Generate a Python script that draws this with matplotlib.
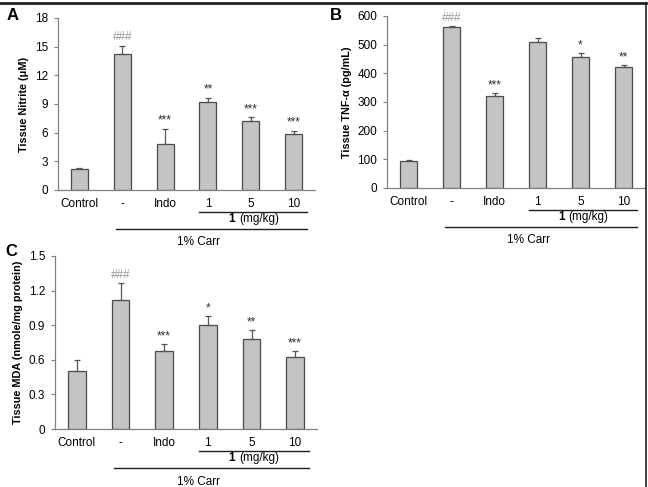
import matplotlib
matplotlib.use("Agg")
import matplotlib.pyplot as plt
from matplotlib.lines import Line2D

categories = ["Control", "-", "Indo", "1", "5", "10"]

nitrite = [2.2, 14.2, 4.8, 9.2, 7.2, 5.9]
nitrite_err = [0.1, 0.9, 1.6, 0.4, 0.4, 0.3]
nitrite_sig = ["", "###", "***", "**", "***", "***"]

tnf = [95, 560, 320, 508, 458, 423]
tnf_err = [3, 6, 12, 15, 12, 6]
tnf_sig = ["", "###", "***", "", "*", "**"]

mda = [0.50, 1.12, 0.68, 0.90, 0.78, 0.62]
mda_err = [0.10, 0.15, 0.06, 0.08, 0.08, 0.06]
mda_sig = ["", "###", "***", "*", "**", "***"]

W, H = 648, 487
fig = plt.figure(figsize=(W / 100, H / 100), dpi=100)
plt.rcParams['font.family'] = ['Liberation Sans', 'DejaVu Sans']

def rect(l, r, top, bot):
    return [l / W, (H - bot) / H, (r - l) / W, (bot - top) / H]

AXC = "#808080"

def panel(pos, vals, errs, sigs, ymax, ystep, ylabel, yfmt, sigpad):
    ax = fig.add_axes(pos)
    x = list(range(len(categories)))
    ax.bar(x, vals, width=0.4, color="#c4c4c4", edgecolor="#4a4a4a", linewidth=0.9, zorder=2)
    ax.errorbar(x, vals, yerr=[[0] * len(errs), errs], fmt="none", ecolor="#555555",
                elinewidth=0.9, capsize=2.5, capthick=0.9, zorder=3)
    for xi, v, e, s in zip(x, vals, errs, sigs):
        if s:
            col = "#999999" if s.startswith("#") else "#303030"
            ax.text(xi, v + e + sigpad, s, ha="center", va="bottom", fontsize=8.5, color=col)
    ax.set_xlim(-0.5, 5.5)
    ax.set_ylim(0, ymax)
    ticks = [i * ystep for i in range(int(round(ymax / ystep)) + 1)]
    ax.set_yticks(ticks)
    ax.set_yticklabels([yfmt(t) for t in ticks], fontsize=8.5)
    ax.set_xticks(x)
    ax.set_xticklabels(categories, fontsize=8.5)
    ax.tick_params(axis="x", length=0, pad=6)
    ax.tick_params(axis="y", length=3, color=AXC, width=0.8, pad=4)
    for s in ["top", "right"]:
        ax.spines[s].set_visible(False)
    for s in ["left", "bottom"]:
        ax.spines[s].set_color(AXC)
        ax.spines[s].set_linewidth(0.9)
    ax.set_ylabel(ylabel, fontsize=7.8, fontweight="bold", labelpad=4)
    tr = ax.get_xaxis_transform()
    ax.add_line(Line2D([2.8, 5.32], [-0.125, -0.125], transform=tr, color="#202020",
                       linewidth=1.0, clip_on=False))
    ax.text(3.63, -0.17, "1", transform=tr, ha="right", va="center",
            fontsize=8.5, fontweight="bold")
    ax.text(3.72, -0.17, "(mg/kg)", transform=tr, ha="left", va="center", fontsize=8.5)
    ax.add_line(Line2D([0.85, 5.32], [-0.228, -0.228], transform=tr, color="#202020",
                       linewidth=1.0, clip_on=False))
    ax.text(2.78, -0.305, "1% Carr", transform=tr, ha="center", va="center", fontsize=8.5)
    return ax

panel(rect(58, 315, 18, 190), nitrite, nitrite_err, nitrite_sig, 18, 3,
      "Tissue Nitrite (μM)", lambda t: f"{t:g}", 0.25)
panel(rect(387, 645, 16, 188), tnf, tnf_err, tnf_sig, 600, 100,
      "Tissue TNF-α (pg/mL)", lambda t: f"{t:g}", 5)
panel(rect(55, 317, 256, 429), mda, mda_err, mda_sig, 1.5, 0.3,
      "Tissue MDA (nmole/mg protein)", lambda t: f"{t:g}", 0.012)

fig.text(7 / W, 1 - 16 / H, "A", fontsize=12, fontweight="bold", ha="left", va="center")
fig.text(330 / W, 1 - 15 / H, "B", fontsize=12, fontweight="bold", ha="left", va="center")
fig.text(5 / W, 1 - 251 / H, "C", fontsize=12, fontweight="bold", ha="left", va="center")

fig.add_artist(Line2D([0, 646 / W], [1 - 2.5 / H, 1 - 2.5 / H], transform=fig.transFigure,
                      color="#222222", linewidth=2.0))
fig.add_artist(Line2D([646 / W, 646 / W], [0, 1 - 2.5 / H], transform=fig.transFigure,
                      color="#222222", linewidth=1.2))

fig.savefig("out.png", dpi=100)
